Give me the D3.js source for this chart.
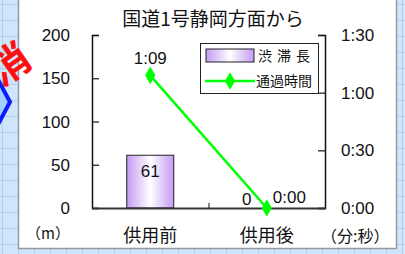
<!DOCTYPE html>
<html>
<head>
<meta charset="utf-8">
<script src="https://cdn.jsdelivr.net/npm/d3@7"></script>
<style>
  html, body { margin: 0; padding: 0; overflow: hidden; }
  svg { display: block; }
  text { font-family: "Liberation Sans", Arial, sans-serif; fill: #111; }
  .jp { font-family: "Noto Sans CJK JP", sans-serif; }
</style>
</head>
<body>
<svg width="405" height="254"></svg>
<script>
const categories = ["供用前", "供用後"]
const jamLength = [61, 0]          // 渋滞長 (m)
const travelSec = [69, 0]          // 通過時間 (秒)
const leftTicks = [0, 50, 100, 150, 200]
const rightTicks = [0, 30, 60, 90]
const title = "国道1号静岡方面から"

const fmt = s => Math.floor(s / 60) + ":" + String(s % 60).padStart(2, "0")

const svg = d3.select("svg")
const W = 405, H = 254

// background sheet with grid
svg.append("rect").attr("width", W).attr("height", H).attr("fill", "#cfe5fc")
const grid = svg.append("g").attr("stroke", "#aecff2").attr("stroke-width", 1)
d3.range(2, W, 16).forEach(x => grid.append("line").attr("x1", x + .5).attr("x2", x + .5).attr("y1", 0).attr("y2", H))
d3.range(4, H, 16).forEach(y => grid.append("line").attr("y1", y + .5).attr("y2", y + .5).attr("x1", 0).attr("x2", W))

// blue chevron from neighbouring figure
svg.append("path")
    .attr("d", "M-6,72 L10,102 L-6,132 Z")
    .attr("fill", "#9fd0ff").attr("stroke", "#0a1cff").attr("stroke-width", 4)

// white panel
svg.append("rect").attr("x", 18.5).attr("y", -2).attr("width", 378).attr("height", 250.5)
    .attr("fill", "#fff").attr("stroke", "#9a9a9a").attr("stroke-width", 1.5)

// red rotated text from neighbouring figure
svg.append("text").attr("class", "jp")
    .attr("transform", "translate(18,76) rotate(-35)")
    .attr("text-anchor", "middle")
    .style("font-size", "40px").style("font-weight", "bold").style("fill", "#ff1010")
    .text("消")

const m = { left: 92, right: 325, top: 35, bottom: 208 }

const x = d3.scaleBand().domain(categories).range([m.left, m.right])
const yL = d3.scaleLinear().domain([0, 200]).range([m.bottom, m.top])
const yR = d3.scaleLinear().domain([0, 90]).range([m.bottom, m.top])

// gradient for bars
const defs = svg.append("defs")
const grad = defs.append("linearGradient").attr("id", "barGrad").attr("x1", 0).attr("x2", 1).attr("y1", 0).attr("y2", 0)
grad.append("stop").attr("offset", "0%").attr("stop-color", "#c49af4")
grad.append("stop").attr("offset", "50%").attr("stop-color", "#ffffff")
grad.append("stop").attr("offset", "100%").attr("stop-color", "#c49af4")

// title
svg.append("text").attr("class", "jp")
    .attr("x", 213).attr("y", 26).attr("text-anchor", "middle")
    .style("font-size", "19px")
    .text(title)

// bars
const bw = 47
svg.append("g").selectAll("rect")
    .data(categories.map((c, i) => ({ c, v: jamLength[i] })).filter(d => d.v > 0))
    .join("rect")
    .attr("x", d => x(d.c) + x.bandwidth() / 2 - bw / 2)
    .attr("y", d => yL(d.v))
    .attr("width", bw)
    .attr("height", d => yL(0) - yL(d.v))
    .attr("fill", "url(#barGrad)")
    .attr("stroke", "#222").attr("stroke-width", 1)

// left axis
const axL = svg.append("g").attr("transform", `translate(${m.left},0)`)
    .call(d3.axisRight(yL).tickValues(leftTicks).tickSize(7).tickFormat(""))
axL.select(".domain").attr("stroke", "#111").attr("stroke-width", 1.5)
axL.selectAll(".tick line").attr("stroke", "#111").attr("stroke-width", 1.2)
svg.append("g").selectAll("text").data(leftTicks).join("text")
    .attr("x", 70).attr("y", d => yL(d) + 6)
    .attr("text-anchor", "end").style("font-size", "17px")
    .text(d => d)

// right axis
const axR = svg.append("g").attr("transform", `translate(${m.right},0)`)
    .call(d3.axisLeft(yR).tickValues(rightTicks).tickSize(7).tickFormat(""))
axR.select(".domain").attr("stroke", "#111").attr("stroke-width", 1.5)
axR.selectAll(".tick line").attr("stroke", "#111").attr("stroke-width", 1.2)
svg.append("g").selectAll("text").data(rightTicks).join("text")
    .attr("x", 341).attr("y", d => yR(d) + 6)
    .attr("text-anchor", "start").style("font-size", "17px")
    .text(d => fmt(d))

// x axis
const axX = svg.append("g").attr("transform", `translate(0,${m.bottom})`)
    .call(d3.axisTop(x).tickSize(0).tickFormat(""))
axX.select(".domain").attr("stroke", "#333").attr("stroke-width", 2)
svg.append("line").attr("x1", x(categories[1]) + .5).attr("x2", x(categories[1]) + .5)
    .attr("y1", m.bottom).attr("y2", m.bottom - 5).attr("stroke", "#111")
svg.append("g").selectAll("text").data(categories).join("text")
    .attr("class", "jp")
    .attr("x", d => x(d) + x.bandwidth() / 2).attr("y", 242)
    .attr("text-anchor", "middle").style("font-size", "18px")
    .text(d => d)

// unit labels
svg.append("text").attr("class", "jp").attr("x", 26).attr("y", 239).style("font-size", "15px").text("（m）")
svg.append("text").attr("class", "jp").attr("x", 321).attr("y", 242).style("font-size", "16px").text("（分:秒）")

// line series
const pts = categories.map((c, i) => ({ c, v: travelSec[i], cx: x(c) + x.bandwidth() / 2 }))
svg.append("path")
    .datum(pts)
    .attr("d", d3.line().x(d => d.cx).y(d => yR(d.v)))
    .attr("fill", "none").attr("stroke", "#00ff00").attr("stroke-width", 2.5)
svg.append("g").selectAll("path").data(pts).join("path")
    .attr("d", d3.symbol(d3.symbolDiamond, 90))
    .attr("transform", d => `translate(${d.cx},${yR(d.v)})`)
    .attr("fill", "#00ff00")

// data labels
const jamPts = categories.map((c, i) => ({ c, v: jamLength[i], cx: x(c) + x.bandwidth() / 2 }))
svg.append("g").selectAll("text").data(jamPts).join("text")
    .attr("x", (d, i) => i === 0 ? d.cx : d.cx - 20)
    .attr("y", (d, i) => i === 0 ? yL(d.v) + 22 : 205)
    .attr("text-anchor", "middle").style("font-size", "17px")
    .text(d => d.v)
svg.append("g").selectAll("text").data(pts).join("text")
    .attr("x", (d, i) => i === 0 ? d.cx : d.cx + 6)
    .attr("y", (d, i) => i === 0 ? yR(d.v) - 11 : 203)
    .attr("text-anchor", (d, i) => i === 0 ? "middle" : "start").style("font-size", "17px")
    .text(d => fmt(d.v))

// legend
const lg = svg.append("g").attr("transform", "translate(200,43)")
lg.append("rect").attr("x", .5).attr("y", .5).attr("width", 118).attr("height", 50)
    .attr("fill", "#fff").attr("stroke", "#222").attr("stroke-width", 1)
lg.append("rect").attr("x", 6).attr("y", 6).attr("width", 48).attr("height", 13)
    .attr("fill", "url(#barGrad)").attr("stroke", "#222").attr("stroke-width", 1)
lg.append("text").attr("class", "jp").attr("x", 58).attr("y", 18).style("font-size", "14px")
    .style("letter-spacing", "5px").text("渋滞長")
lg.append("line").attr("x1", 5).attr("x2", 55).attr("y1", 38).attr("y2", 38)
    .attr("stroke", "#00ff00").attr("stroke-width", 2.5)
lg.append("path").attr("d", d3.symbol(d3.symbolDiamond, 90)).attr("transform", "translate(30,38)").attr("fill", "#00ff00")
lg.append("text").attr("class", "jp").attr("x", 56).attr("y", 43).style("font-size", "14px").text("通過時間")
</script>
</body>
</html>
